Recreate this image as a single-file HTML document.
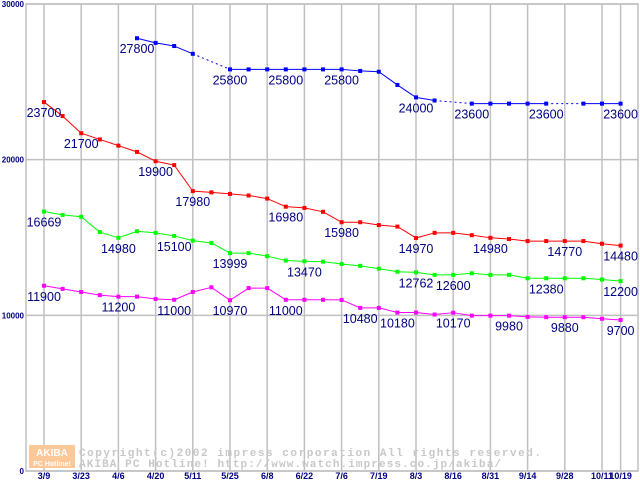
<!DOCTYPE html>
<html><head><meta charset="utf-8"><style>
html,body{margin:0;padding:0;background:#fff;}
svg{display:block;}
</style></head><body>
<svg id="chart" width="640" height="480" xmlns="http://www.w3.org/2000/svg" font-family="Liberation Sans, sans-serif">
</svg>
<script>
const categories = ["3/9","3/23","4/6","4/20","5/11","5/25","6/8","6/22","7/6","7/19","8/3","8/16","8/31","9/14","9/28","10/11","10/19"];
const categoryIdx = [0,2,4,6,8,10,12,14,16,18,20,22,24,26,28,30,31];
const yTicks = [0,10000,20000,30000];
const blueVals = [null,null,null,null,null,27800,27500,27300,26800,null,25800,25800,25800,25800,25800,25800,25800,25700,25650,24800,24000,23800,null,23600,23600,23600,23600,23600,null,23600,23600,23600];
const redVals = [23700,22800,21700,21300,20900,20500,19900,19650,17980,17900,17800,17700,17500,16980,16900,16650,15980,15980,15800,15700,14970,15300,15300,15150,14980,14900,14770,14770,14770,14770,14600,14480];
const greenVals = [16669,16450,16330,15350,14980,15400,15300,15100,14800,14650,13999,13999,13800,13520,13470,13450,13300,13180,13000,12800,12762,12600,12600,12700,12600,12600,12380,12380,12380,12380,12300,12200];
const magentaVals = [11900,11700,11500,11300,11200,11200,11050,11000,11500,11800,10970,11750,11750,11000,11000,11000,10990,10480,10480,10180,10180,10050,10170,9980,9980,9980,9900,9880,9880,9880,9780,9700];
const blueLabels = [5,10,13,16,20,23,27,31];
const redLabels = [0,2,6,8,13,16,20,24,28,31];
const greenLabels = [0,4,7,10,14,20,22,27,31];
const magentaLabels = [0,4,7,10,13,17,19,22,25,28,31];

const NS="http://www.w3.org/2000/svg";
const svg=document.getElementById('chart');
const L=26,R=638,T=4,B=471;
const x=i=>44+i*18.6;
const y=v=>B-(v/30000)*(B-T);
function mk(tag,attrs,parent){const e=document.createElementNS(NS,tag);for(const k in attrs)e.setAttribute(k,attrs[k]);(parent||svg).appendChild(e);return e;}

const grid=mk('g',{});


mk('rect',{x:L,y:T,width:R-L,height:B-T,fill:'none',stroke:'#c0c0c0','stroke-width':1.5},grid);
yTicks.forEach(v=>{
  const l=mk('line',{x1:L,x2:R,y1:y(v),y2:y(v),stroke:'#c0c0c0','stroke-width':1.5},grid);
  
  
  const t=mk('text',{x:L-2,y:y(v)+3,'text-anchor':'end','font-size':8,'font-weight':'bold',fill:'#000080'});
  t.textContent=v;
  
  
});
categories.forEach((c,k)=>{
  const xi=x(categoryIdx[k]);
  const l=mk('line',{x1:xi,x2:xi,y1:T,y2:B,stroke:'#c0c0c0','stroke-width':1.5},grid);
  
  
  const t=mk('text',{x:xi,y:479,'text-anchor':'middle','font-size':9,'font-weight':'bold',fill:'#000080'});
  t.textContent=c;
  
  
});

// watermark
const wm=mk('g',{});


mk('rect',{x:29,y:445,width:46,height:23,fill:'#fcc898'},wm);
const w1=mk('text',{x:52,y:456,'text-anchor':'middle','font-size':10,'font-weight':'bold',fill:'#fff'},wm);w1.textContent='AKIBA';
const w2=mk('text',{x:52,y:466,'text-anchor':'middle','font-size':7,'font-weight':'bold',fill:'#fff'},wm);w2.textContent='PC Hotline!';
const w3=mk('text',{x:79,y:456,'font-size':11,'font-family':'Liberation Mono, monospace','font-weight':'bold',fill:'#c8c8c8',textLength:462,lengthAdjust:'spacing'},wm);w3.textContent='Copyright(c)2002 impress corporation All rights reserved.';
const w4=mk('text',{x:79,y:467,'font-size':11,'font-family':'Liberation Mono, monospace','font-weight':'bold',fill:'#c8c8c8',textLength:422,lengthAdjust:'spacing'},wm);w4.textContent='AKIBA PC Hotline!  http://www.watch.impress.co.jp/akiba/';

function series(vals,labels,color,name){
  const g=mk('g',{});
  
  
  let prev=-1;
  for(let i=0;i<vals.length;i++){
    if(vals[i]==null)continue;
    if(prev>=0){
      const seg=mk('line',{x1:x(prev),y1:y(vals[prev]),x2:x(i),y2:y(vals[i]),stroke:color,'stroke-width':1},g);
      if(i-prev>1)seg.setAttribute('stroke-dasharray','2,3');
      
      
    }
    prev=i;
  }
  vals.forEach((v,i)=>{
    if(v==null)return;
    const p=mk('rect',{x:x(i)-2,y:y(v)-2,width:4,height:4,fill:color},g);
    
    
  });
  labels.forEach(i=>{
    const t=mk('text',{x:x(i),y:y(vals[i])+15,'text-anchor':'middle','font-size':12.5,fill:'#000080'},g);
    t.textContent=vals[i];
    
    
  });
}
series(blueVals,blueLabels,'#0000ff','blue');
series(redVals,redLabels,'#ff0000','red');
series(greenVals,greenLabels,'#00ff00','green');
series(magentaVals,magentaLabels,'#ff00ff','magenta');
</script>
</body></html>
